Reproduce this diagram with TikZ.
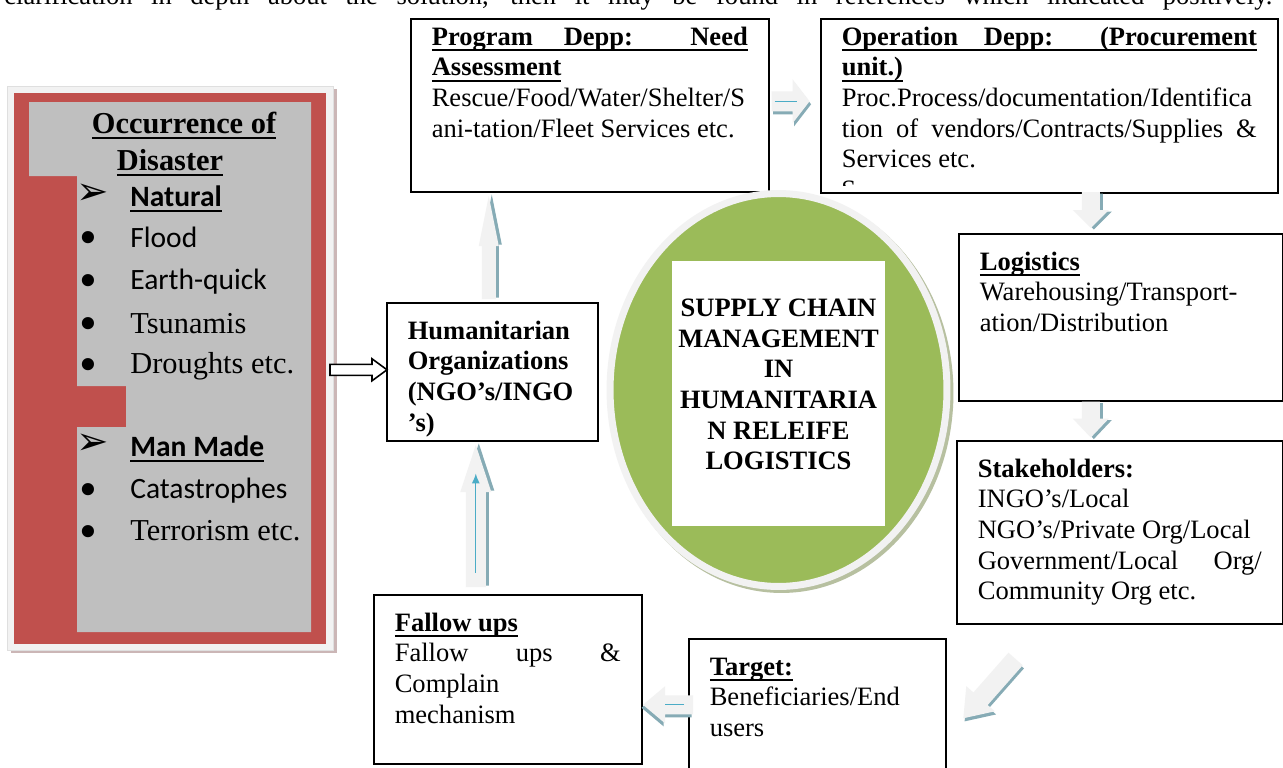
\documentclass[tikz,border=0pt]{standalone}
\usepackage{fontspec}
\setmainfont{Liberation Serif}
\newfontfamily\calibri{Carlito}
\newfontfamily\dingsfont{DejaVu Sans}
\usetikzlibrary{calc,positioning,shapes.geometric,arrows.meta}

\definecolor{disasterred}{HTML}{C0504D}
\definecolor{panelgray}{HTML}{BFBFBF}
\definecolor{framegray}{HTML}{F2F2F2}
\definecolor{panelshade}{HTML}{CBB6B6}
\definecolor{leafgreen}{HTML}{9BBB59}
\definecolor{hubshade}{HTML}{B7C0A0}
\definecolor{flowfill}{HTML}{F2F2F2}
\definecolor{flowshade}{HTML}{86ABB5}
\definecolor{glintblue}{HTML}{4BACC6}

% one pixel of the layout grid (0.02cm)
\newlength\pxu
\setlength\pxu{0.02cm}
% underline at a fixed depth
\newlength\ULdepth
\setlength\ULdepth{2.4pt}
\newcommand\ULthickness{0.8pt}
\newcommand\uline[1]{\leavevmode\setbox0=\hbox{#1}\rlap{\rule[\dimexpr-\ULdepth-\ULthickness\relax]{\wd0}{\ULthickness}}\box0}
\newcommand\bodyfont{\fontsize{15.1}{17.45}\selectfont}
\newcommand\spreadline[1]{\makebox[\linewidth][s]{#1}}
\newcommand\spreadul[1]{\makebox[\linewidth][s]{#1}\llap{\rule[\dimexpr-\ULdepth-\ULthickness\relax]{\linewidth}{\ULthickness}}}

\tikzset{
  infobox/.style={draw, line width=0.9pt, fill=white, anchor=north west,
    inner xsep=0.42cm, inner ysep=0.1cm, font=\bodyfont},
  lowtext/.style={inner ysep=0.3cm},
  panelhead/.style={anchor=base, inner sep=0pt, font=\fontsize{17.3}{20}\selectfont\bfseries},
  listhead/.style={anchor=base west, inner sep=0pt, font=\calibri\fontsize{16.8}{20}\selectfont\bfseries},
  listsans/.style={anchor=base west, inner sep=0pt, font=\calibri\fontsize{16.8}{20}\selectfont},
  listserif/.style={anchor=base west, inner sep=0pt, font=\fontsize{17.3}{20}\selectfont},
  listdot/.style={inner sep=0pt, font=\fontsize{29}{30}\selectfont},
  listarrow/.style={inner sep=0pt, font=\dingsfont\fontsize{22}{24}\selectfont},
  glint/.style={glintblue, line width=0.028cm},
  pics/flowarrow/.style args={#1/#2/#3/#4}{code={
    \begin{scope}[shift={(1.5,3)}]
      \fill[flowshade] (0,-#2) -- (#1-#4,-#2) -- (#1-#4,-#3) -- (#1,0) -- (#1-#4,#3) -- (#1-#4,#2) -- (0,#2) -- cycle;
    \end{scope}
    \fill[flowfill] (0,-#2) -- (#1-#4,-#2) -- (#1-#4,-#3) -- (#1,0) -- (#1-#4,#3) -- (#1-#4,#2) -- (0,#2) -- cycle;
    \coordinate (-tail) at (0,0);
    \coordinate (-tip) at (#1,0);
  }},
  pics/hollowarrow/.style args={#1/#2/#3/#4}{code={
    \filldraw[fill=white, draw=black, line width=0.9pt] (0,-#2) -- (#1-#4,-#2) -- (#1-#4,-#3) -- (#1,0) -- (#1-#4,#3) -- (#1-#4,#2) -- (0,#2) -- cycle;
    \coordinate (-tail) at (0,0);
    \coordinate (-tip) at (#1,0);
  }}
}

\begin{document}
\begin{tikzpicture}[x=0.02cm,y=-0.02cm]
\useasboundingbox (0,0) rectangle (1283,767);
\fill[white] (0,0) rectangle (1283,767);
\clip (0,0) rectangle (1283,767);

\node[anchor=base west, inner sep=0pt, font=\bodyfont] (intro) at (4,5) {\makebox[1268\pxu][s]{clarification in depth about the solution, then it may be found in references which indicated positively.}};

% disaster panel
\fill[panelshade] (11,89) rectangle (337,653);
\filldraw[fill=framegray, draw=gray!25] (7,86) rectangle (333,650);
\fill[disasterred] (14,93) rectangle (326,644);
\fill[panelgray] (29,102) -- (311,102) -- (311,632) -- (77,632) -- (77,427) -- (126,427)
  -- (126,386) -- (77,386) -- (77,176) -- (29,176) -- cycle;

\node[panelhead] (occ) at (184,133) {\def\ULthickness{1.1pt}\uline{Occurrence of}};
\node[panelhead] (disaster) at (170,170) {\def\ULthickness{1.1pt}\uline{Disaster}};

\node[listarrow] (natmark) at (93,194) {➢};
\node[listhead] (natural) at (130,206) {\uline{Natural}};
\node[listdot] (flooddot) at (88.5,243) {•};
\node[listsans] (flood) at (130,247) {Flood};
\node[listdot] (quakedot) at (88.5,286) {•};
\node[listsans] (quake) at (130,289) {Earth-quick};
\node[listdot] (tsudot) at (88.5,329) {•};
\node[listserif] (tsunami) at (130,333) {Tsunamis};
\node[listdot] (droughtdot) at (88.5,370) {•};
\node[listserif] (drought) at (130,373) {Droughts etc.};
\node[listarrow] (manmark) at (93,444) {➢};
\node[listhead] (manmade) at (130,456) {\uline{Man Made}};
\node[listdot] (catdot) at (88.5,495) {•};
\node[listsans] (catas) at (130,498) {Catastrophes};
\node[listdot] (terrordot) at (88.5,537) {•};
\node[listserif] (terror) at (130,540) {Terrorism etc.};

% boxes round the cycle
\node[infobox] (prog) at (410,18) {\parbox[t][163\pxu][t]{316\pxu}{\strut
  \spreadul{\bfseries Program Depp: Need}\\
  \uline{\textbf{Assessment}}\\
  Rescue/Food/Water/Shelter/S\\
  ani-tation/Fleet Services etc.}};

\node[infobox] (oper) at (820,18) {\parbox[t][164\pxu][t]{415\pxu}{\strut
  \spreadul{\bfseries Operation Depp: (Procurement}\\
  \uline{\textbf{unit.)}}\\
  Proc.Process/documentation/Identifica\\
  \spreadline{tion of vendors/Contracts/Supplies \&}\\
  Services etc.}};
\begin{scope}
  \clip ([xshift=0.04cm,yshift=0.16cm]oper.south west) rectangle ([xshift=-0.04cm]oper.north east);
  \node[anchor=base west, inner sep=0pt, font=\bodyfont] (operrest) at (841,198) {S};
\end{scope}

\node[infobox, lowtext] (logi) at (958,233) {\parbox[t][137\pxu][t]{282\pxu}{\strut
  \uline{\textbf{Logistics}}\\
  Warehousing/Transport-\\
  ation/Distribution}};

\node[infobox, lowtext] (stake) at (956,440) {\parbox[t][153\pxu][t]{284\pxu}{\strut
  \textbf{Stakeholders:}\\
  INGO’s/Local\\
  NGO’s/Private Org/Local\\
  \spreadline{Government/Local Org/}\\
  Community Org etc.}};

\node[infobox, lowtext] (targ) at (688,638) {\parbox[t][110\pxu][t]{215\pxu}{\strut
  \uline{\textbf{Target:}}\\
  Beneficiaries/End\\
  users}};

\node[infobox, lowtext] (fall) at (373,594) {\parbox[t][139\pxu][t]{226\pxu}{\strut
  \uline{\textbf{Fallow ups}}\\
  \spreadline{Fallow ups \&}\\
  Complain\\
  mechanism}};

\node[infobox, lowtext] (hum) at (386,302) {\parbox[t][108\pxu][t]{169\pxu}{\strut\bfseries
  Humanitarian\\
  Organizations\\
  (NGO’s/INGO\\
  ’s)}};

% centre
\node[ellipse, fill=hubshade, minimum width=6.88cm, minimum height=8cm] (hubshadow) at (781.5,393) {};
\node[ellipse, fill=leafgreen, draw=framegray, line width=0.14cm, minimum width=6.74cm, minimum height=7.86cm] (hub) at (778.5,390) {};
\node[fill=white, inner sep=0pt, font=\bodyfont] (core) at (778.5,393.5) {\parbox[t][265\pxu][t]{213\pxu}{\vspace*{34\pxu}\centering\bfseries\strut
  SUPPLY CHAIN\\ MANAGEMENT\\ IN\\ HUMANITARIA\\ N RELEIFE\\ LOGISTICS}};

% block arrows
\pic (feed) at ($(hum.west)+(-56,-2)$) {hollowarrow=57/5.5/11/15};
\pic[rotate=90] (up1) at ($(hum.north)+(-3.5,-3)$) {flowarrow=103/7/10/50};
\pic (right1) at ($(prog.east)+(2,-4)$) {flowarrow=38/10/22/17};
\pic[rotate=-90, yscale=-1] (down1) at ($(logi.north)+(-30,-41)$) {flowarrow=36/9/18/18};
\pic[rotate=-90, yscale=-1] (down2) at ($(logi.south)+(-30,0)$) {flowarrow=36/9/18/19};
\pic[rotate=228.6, yscale=-1] (diag) at ($(targ.north east)+(69,21)$) {flowarrow=79/9.5/19/26};
\pic[rotate=180, yscale=-1] (left1) at ($(targ.west)+(5,-4)$) {flowarrow=50/9.5/18.5/22};
\pic[rotate=90] (up2) at ($(fall.north)+(-32,-7)$) {flowarrow=142/10/15.5/47};

\draw[glint, -{Latex[length=0.2cm, width=0.16cm]}] ($(up2-tail)!0.1!(up2-tip)$) -- ($(up2-tail)!0.8!(up2-tip)$);
\draw[glint] ($(right1-tail)!0.08!(right1-tip)$) -- ($(right1-tail)!0.66!(right1-tip)$);
\draw[glint] ($(left1-tail)!0.18!(left1-tip)$) -- ($(left1-tail)!0.56!(left1-tip)$);
\end{tikzpicture}
\end{document}
